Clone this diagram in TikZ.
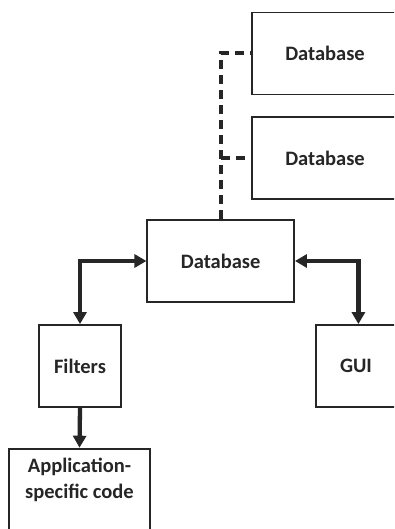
\documentclass[tikz,border=0pt]{standalone}
\usepackage{fontspec}
\setmainfont{Carlito}
\usepackage{tikz}
\usetikzlibrary{arrows.meta}
\usetikzlibrary{positioning}
\usetikzlibrary{math}
\tikzstyle{block} = [draw=black!85, line width=1.8pt, fill=white, text centered, align=center, font=\bfseries\fontsize{20.5}{26}\selectfont, text=black!85]
\tikzstyle{arrow} = [line width=4.3pt, draw=black!85, {Triangle[length=12pt,width=13pt]}-{Triangle[length=12pt,width=13pt]}]
\tikzstyle{onearrow} = [line width=4.3pt, draw=black!85, -{Triangle[length=12pt,width=13pt]}]
\tikzstyle{link} = [line width=4pt, draw=black!85, dash pattern=on 9pt off 6pt]

\begin{document}
\begin{tikzpicture}[x=1pt, y=-1pt]

  \useasboundingbox (0,0) rectangle (394,529);
  \clip (0,0) rectangle (394,529);

  \tikzmath{\h = 82;}

  % top row
  \node[block, minimum width=146pt, minimum height=\h pt] (dbone) at (325,53.5) {Database};
  \node[block, minimum width=146pt, minimum height=\h pt] (dbtwo) at (325,158) {Database};

  % middle
  \node[block, minimum width=146.7pt, minimum height=\h pt] (db) at (220.7,261) {Database};

  % bottom row
  \node[block, minimum width=81.4pt, minimum height=\h pt] (filt) at (80,366) {Filters};
  \node[block, minimum width=80pt, minimum height=\h pt] (gui) at (356,366) {GUI};
  \node[block, anchor=north, minimum width=141pt, inner ysep=9.5pt, text depth=60pt] (app) at (79.5,447.7) {Application-\\specific code};

  \coordinate (guitop) at ([xshift=43.3pt]gui.north west);

  \draw[link] (db.north) |- (dbone.west);
  \draw[link] (db.north |- dbtwo.west) -- (dbtwo.west);

  \draw[arrow] (filt.north) |- (db.west);
  \draw[arrow] (db.east) -| (guitop);
  \draw[onearrow] (filt.south) -- (app.north);

\end{tikzpicture}
\end{document}
